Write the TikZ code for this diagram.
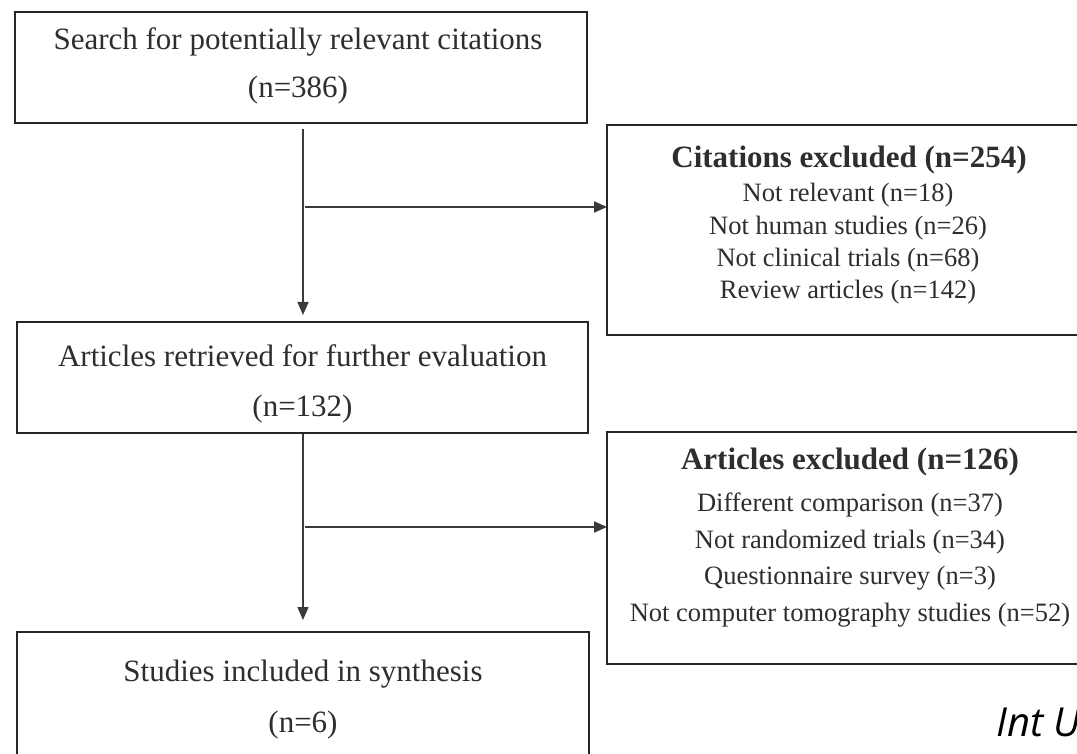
\documentclass[tikz,border=0pt]{standalone}
\usepackage{fontspec}
\setmainfont{Liberation Serif}
\newfontfamily\journalfont{Open Sans}
\usetikzlibrary{arrows.meta}
\definecolor{boxcol}{HTML}{262626}
\definecolor{linecol}{HTML}{3A3A3A}
\definecolor{txtcol}{HTML}{2E2E2E}
\begin{document}
\begin{tikzpicture}[x=1pt,y=-1pt,
  boxframe/.style={draw=boxcol, line width=1.8pt, inner sep=0pt, outer sep=0pt, fill=none},
  maintext/.style={text=txtcol, font=\fontsize{31}{48}\selectfont, align=center, inner sep=0pt},
  titletext/.style={text=txtcol, font=\bfseries\fontsize{31}{36}\selectfont, align=center, inner sep=0pt},
  vline/.style={draw=linecol, line width=1.4pt},
  arr/.style={-{Triangle[length=13pt,width=11pt]}},
  hline/.style={draw=linecol, line width=1.8pt}
]
\useasboundingbox (0,0) rectangle (1077,754);
\fill[white] (0,0) rectangle (1077,754);
\clip (0,0) rectangle (1077,754);

% left column boxes
\node[boxframe, minimum width=572pt, minimum height=111pt] (box1) at (301,67.5) {};
\node[maintext] (box1t) at (298,66) {Search for potentially relevant citations\\(n=386)};

\node[boxframe, minimum width=571pt, minimum height=111pt] (box2) at (302.5,377.5) {};
\node[maintext, font=\fontsize{31}{50}\selectfont] (box2t) at (302.5,384) {Articles retrieved for further evaluation\\(n=132)};

\node[boxframe, minimum width=572pt, minimum height=133pt] (box3) at (303,698.5) {};
\node[maintext, font=\fontsize{31}{51}\selectfont] (box3t) at (303,700) {Studies included in synthesis\\(n=6)};

% right column boxes
\node[boxframe, minimum width=482pt, minimum height=210pt] (exA) at (848,230) {};
\node[titletext] (exAt) at (849,160) {Citations excluded (n=254)};
\node[maintext, font=\fontsize{26.5}{32.3}\selectfont] (exAb) at (848,244) {Not relevant (n=18)\\Not human studies (n=26)\\Not clinical trials (n=68)\\Review articles (n=142)};

\node[boxframe, minimum width=482pt, minimum height=232pt] (exB) at (848,548) {};
\node[titletext] (exBt) at (850,462) {Articles excluded (n=126)};
\node[maintext, font=\fontsize{26.5}{36.7}\selectfont] (exBb) at (850,560) {Different comparison (n=37)\\Not randomized trials (n=34)\\Questionnaire survey (n=3)\\Not computer tomography studies (n=52)};

% connectors
\draw[vline, arr, shorten <=6pt, shorten >=7pt] ([xshift=2pt]box1.south) -- ([xshift=2pt]box1.south |- box2.north);
\coordinate (j1) at (305,207);
\draw[hline, arr] (j1) -- (j1 -| exA.west);

\draw[vline, arr, shorten <=1pt, shorten >=12pt] ([xshift=0.5pt]box2.south) -- ([xshift=0.5pt]box2.south |- box3.north);
\coordinate (j2) at (305,527);
\draw[hline, arr] (j2) -- (j2 -| exB.west);

% journal label (cut at the right edge, as in the reference)
\node[anchor=base west, inner sep=0pt, text=black, font=\journalfont\itshape\fontsize{40}{48}\selectfont] (journal) at (996,736) {Int U};
\end{tikzpicture}
\end{document}
